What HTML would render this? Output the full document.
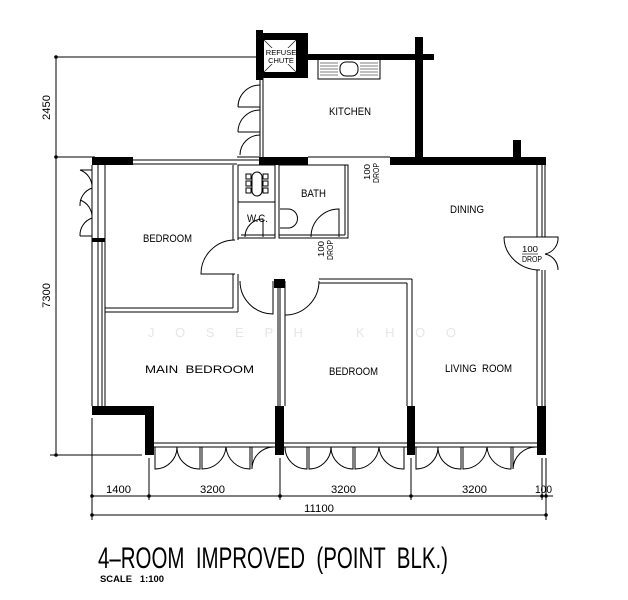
<!DOCTYPE html>
<html><head><meta charset="utf-8"><style>
html,body{margin:0;padding:0;background:#fff;}
svg{display:block;}
text{font-family:"Liberation Sans Narrow","Liberation Sans",sans-serif;fill:#000;white-space:pre;}
</style></head><body>
<svg width="628" height="600" viewBox="0 0 628 600" xmlns="http://www.w3.org/2000/svg">
<g fill="none" stroke="#000" stroke-width="1">
<line x1="56" y1="57" x2="257" y2="57"/>
<line x1="56" y1="157" x2="95" y2="157"/>
<line x1="56" y1="57" x2="56" y2="455"/>
<line x1="50" y1="455" x2="142" y2="455"/>
<line x1="92" y1="418" x2="92" y2="520"/>
<line x1="149" y1="458" x2="149" y2="500"/>
<line x1="280" y1="458" x2="280" y2="500"/>
<line x1="411" y1="458" x2="411" y2="500"/>
<line x1="542" y1="458" x2="542" y2="500"/>
<line x1="546" y1="458" x2="546" y2="520"/>
<line x1="92" y1="496" x2="553" y2="496"/>
<line x1="92" y1="515" x2="546" y2="515"/>
<line x1="260" y1="78" x2="260" y2="157"/>
<line x1="263" y1="78" x2="263" y2="157"/>
<path d="M260 85 A22 22 0 0 0 238 107 M238 107 L260 107"/>
<path d="M260 110 A22 22 0 0 0 238 132 M238 132 L260 132"/>
<path d="M260 135 A20 20 0 0 0 240 155"/>
<line x1="133" y1="160" x2="237" y2="160"/>
<line x1="133" y1="164" x2="237" y2="164"/>
<line x1="237" y1="157" x2="259" y2="157"/>
<line x1="237" y1="160" x2="259" y2="160"/>
<line x1="308" y1="157" x2="390" y2="157"/>
<line x1="92" y1="165" x2="92" y2="406"/>
<line x1="98" y1="165" x2="98" y2="406"/>
<line x1="102" y1="240" x2="102" y2="406"/>
<line x1="105" y1="165" x2="105" y2="406"/>
<path d="M92 188 A18 18 0 0 0 80 170 M80 170 L92 170"/>
<path d="M92 188 A18 18 0 0 0 80 206"/>
<path d="M92 218 A18 18 0 0 0 80 236 M80 236 L92 236"/>
<path d="M92 218 A18 18 0 0 0 80 200"/>
<line x1="233" y1="165" x2="233" y2="240"/>
<line x1="238" y1="165" x2="238" y2="240"/>
<line x1="233" y1="274" x2="233" y2="308"/>
<line x1="238" y1="274" x2="238" y2="312"/>
<line x1="105" y1="308" x2="233" y2="308"/>
<line x1="105" y1="312" x2="238" y2="312"/>
<path d="M235 240 A34 34 0 0 0 201 274 L235 274"/>
<rect x="238" y="165" width="37" height="73"/>
<line x1="238" y1="202" x2="275" y2="202"/>
<rect x="279" y="165" width="69" height="73"/>
<line x1="345" y1="165" x2="345" y2="235"/>
<line x1="279" y1="235" x2="345" y2="235"/>
<line x1="241" y1="235" x2="275" y2="235"/>
<rect x="252" y="172" width="10" height="24" rx="5"/>
<rect x="246" y="174" width="5" height="5"/><rect x="246" y="181" width="5" height="5"/><rect x="246" y="188" width="5" height="5"/>
<rect x="263" y="174" width="5" height="5"/><rect x="263" y="181" width="5" height="5"/><rect x="263" y="188" width="5" height="5"/>
<path d="M245 237 A18 18 0 0 1 263 219 L263 237"/>
<path d="M280 209 L288 209 A9 9 0 0 1 288 228 L280 228"/>
<path d="M311 237 A28 28 0 0 1 339 209 L339 237"/>
<path d="M240 281 A33 33 0 0 0 273 314 L273 281"/>
<path d="M319 281 A34 34 0 0 1 285 315 L285 281"/>
<line x1="278" y1="288" x2="278" y2="406"/>
<line x1="280" y1="288" x2="280" y2="406"/>
<line x1="285" y1="288" x2="285" y2="406"/>
<line x1="319" y1="279" x2="412" y2="279"/>
<line x1="319" y1="283" x2="407" y2="283"/>
<line x1="407" y1="283" x2="407" y2="406"/>
<line x1="412" y1="279" x2="412" y2="406"/>
<line x1="537" y1="165" x2="537" y2="237"/><line x1="542" y1="165" x2="542" y2="237"/><line x1="545" y1="165" x2="545" y2="237"/>
<line x1="537" y1="270" x2="537" y2="406"/><line x1="542" y1="270" x2="542" y2="406"/><line x1="545" y1="270" x2="545" y2="406"/>
<path d="M504 237 L558 237 A16 16 0 0 1 545 254 A16 16 0 0 1 558 270 M504 237 A36 33 0 0 0 540 270"/>
<rect x="318" y="59" width="62" height="20"/>
<rect x="340" y="62" width="18" height="14" rx="6"/>
<g stroke-width="0.6">
<line x1="320" y1="63" x2="338" y2="63"/><line x1="320" y1="66" x2="338" y2="66"/><line x1="320" y1="69" x2="338" y2="69"/><line x1="320" y1="72" x2="338" y2="72"/><line x1="320" y1="75" x2="338" y2="75"/>
<line x1="360" y1="63" x2="378" y2="63"/><line x1="360" y1="66" x2="378" y2="66"/><line x1="360" y1="69" x2="378" y2="69"/><line x1="360" y1="72" x2="378" y2="72"/><line x1="360" y1="75" x2="378" y2="75"/>
</g>
<line x1="154" y1="443" x2="537" y2="443"/>
<line x1="154" y1="447" x2="537" y2="447"/>
<path d="M155 447 L155 469 A22 22 0 0 0 177 447 A22 22 0 0 0 200 469 L200 447"/>
<path d="M202 447 L202 469 A24 24 0 0 0 226 447 A24 24 0 0 0 250 469 L250 447"/>
<path d="M252 447 L252 469 A22 22 0 0 1 274 447"/>
<path d="M307 447 L307 469 A22 22 0 0 1 285 447"/>
<path d="M309 447 L309 469 A22 22 0 0 0 331 447 A22 22 0 0 0 353 469 L353 447"/>
<path d="M355 447 L355 469 A24 24 0 0 0 379 447 A24 24 0 0 0 404 469 L404 447"/>
<path d="M416 447 L416 469 A22 22 0 0 0 438 447 A22 22 0 0 0 461 469 L461 447"/>
<path d="M463 447 L463 469 A24 24 0 0 0 487 447 A24 24 0 0 0 511 469 L511 447"/>
<path d="M513 447 L513 469 A23 23 0 0 1 536 447"/>
</g>
<g fill="#000">
<circle cx="56" cy="57" r="1.8"/><circle cx="56" cy="157" r="1.8"/><circle cx="56" cy="455" r="1.8"/>
<circle cx="92" cy="496" r="1.8"/><circle cx="149" cy="496" r="1.8"/><circle cx="280" cy="496" r="1.8"/><circle cx="411" cy="496" r="1.8"/><circle cx="542" cy="496" r="1.8"/><circle cx="546" cy="496" r="1.8"/>
<circle cx="92" cy="515" r="1.8"/><circle cx="546" cy="515" r="1.8"/>
<path d="M257 33 L308 33 L308 78 L257 78 Z M264 40 L264 72 L296 72 L296 40 Z" fill-rule="evenodd"/>
<rect x="256" y="30" width="7" height="50"/>
<rect x="308" y="54" width="126" height="6"/>
<rect x="415" y="37" width="8" height="128"/>
<rect x="92" y="157" width="41" height="8"/>
<rect x="259" y="157" width="49" height="8"/>
<rect x="390" y="157" width="156" height="8"/>
<rect x="513" y="140" width="8" height="18"/>
<rect x="92" y="238" width="13" height="4"/>
<rect x="92" y="406" width="62" height="9"/>
<rect x="145" y="406" width="9" height="49"/>
<rect x="275" y="406" width="9" height="49"/>
<rect x="407" y="406" width="8" height="49"/>
<rect x="537" y="406" width="9" height="49"/>
<rect x="274" y="279" width="11" height="9"/>
</g>
<g stroke="#000" stroke-width="0.6" fill="none">
<line x1="264" y1="40" x2="296" y2="72"/><line x1="296" y1="40" x2="264" y2="72"/>
</g>
<rect x="270" y="48" width="22" height="16" fill="#fff"/>
<text x="281" y="55" font-size="7.5" text-anchor="middle">REFUSE</text>
<text x="281" y="63" font-size="7.5" text-anchor="middle">CHUTE</text>

<g font-size="11">
<text x="329" y="115" textLength="42" lengthAdjust="spacingAndGlyphs">KITCHEN</text>
<text x="301" y="197" textLength="25" lengthAdjust="spacingAndGlyphs">BATH</text>
<text x="247" y="222" textLength="21" lengthAdjust="spacingAndGlyphs">W.C.</text>
<text x="143" y="242" textLength="49" lengthAdjust="spacingAndGlyphs">BEDROOM</text>
<text x="450" y="213" textLength="34" lengthAdjust="spacingAndGlyphs">DINING</text>
<text x="145" y="373" textLength="109" lengthAdjust="spacingAndGlyphs">MAIN  BEDROOM</text>
<text x="329" y="375" textLength="49" lengthAdjust="spacingAndGlyphs">BEDROOM</text>
<text x="445" y="372" textLength="67" lengthAdjust="spacingAndGlyphs">LIVING  ROOM</text>
<text x="106" y="493" textLength="25" lengthAdjust="spacingAndGlyphs">1400</text>
<text x="200" y="493" textLength="25" lengthAdjust="spacingAndGlyphs">3200</text>
<text x="331" y="493" textLength="25" lengthAdjust="spacingAndGlyphs">3200</text>
<text x="462" y="493" textLength="25" lengthAdjust="spacingAndGlyphs">3200</text>
<text x="535" y="493" textLength="17" lengthAdjust="spacingAndGlyphs">100</text>
<text x="304" y="512" textLength="30" lengthAdjust="spacingAndGlyphs">11100</text>
<text transform="translate(50,120) rotate(-90)" textLength="25" lengthAdjust="spacingAndGlyphs">2450</text>
<text transform="translate(50,308) rotate(-90)" textLength="25" lengthAdjust="spacingAndGlyphs">7300</text>
</g>
<g font-size="8.5">
<text x="522" y="252" textLength="16" lengthAdjust="spacingAndGlyphs">100</text>
<text x="522" y="262" textLength="20" lengthAdjust="spacingAndGlyphs">DROP</text>
<line x1="522" y1="254" x2="538" y2="254" stroke="#000" stroke-width="0.6"/>
<text transform="translate(324,257) rotate(-90)" textLength="16" lengthAdjust="spacingAndGlyphs">100</text>
<text transform="translate(333,260) rotate(-90)" textLength="20" lengthAdjust="spacingAndGlyphs">DROP</text>
<text transform="translate(370,180) rotate(-90)" textLength="16" lengthAdjust="spacingAndGlyphs">100</text>
<text transform="translate(379,183) rotate(-90)" textLength="20" lengthAdjust="spacingAndGlyphs">DROP</text>
</g>
<text x="148" y="337" font-size="13" style="fill:#e6e6e6" textLength="308" lengthAdjust="spacing">J  O  S  E  P  H      K  H  O  O</text>
<text x="98" y="568" font-size="30" textLength="350" lengthAdjust="spacingAndGlyphs">4–ROOM  IMPROVED  (POINT  BLK.)</text>
<text x="100" y="582" font-size="9" font-weight="bold" textLength="64" lengthAdjust="spacingAndGlyphs">SCALE   1:100</text>
</svg>
</body></html>
